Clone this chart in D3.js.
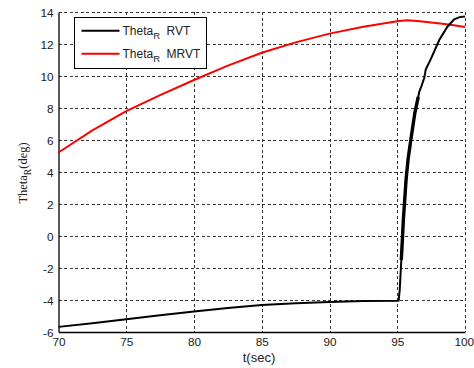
<!DOCTYPE html>
<html>
<head>
<meta charset="utf-8">
<script src="https://cdn.jsdelivr.net/npm/d3@7/dist/d3.min.js"></script>
<style>
  html, body { margin: 0; padding: 0; background: #fff; }
  svg { display: block; }
</style>
</head>
<body>
<svg id="chart" width="474" height="368"></svg>
<script>
// Time ticks and value ticks
const xTicks = [70, 75, 80, 85, 90, 95, 100];
const yTicks = [-6, -4, -2, 0, 2, 4, 6, 8, 10, 12, 14];

// Theta_R for the RVT controller (time in sec, angle in deg)
const rvtTime = [70, 72.5, 75, 77.5, 80, 82.5, 85, 87.5, 90, 92.5, 95, 95.1,
  95.18, 95.3, 95.45, 95.65, 95.8, 96.0, 96.3, 96.55, 96.62, 96.8, 97.0, 97.1,
  97.5, 98.1, 98.7, 99.2, 99.6, 100];
const rvtValue = [-5.68, -5.45, -5.2, -4.95, -4.72, -4.5, -4.32, -4.2, -4.12, -4.07, -4.04, -4.03,
  -3.4, -1.5, 1.0, 3.5, 4.8, 6.0, 7.7, 8.7, 9.0, 9.4, 9.9, 10.4,
  11.1, 12.25, 13.08, 13.54, 13.68, 13.72];
// interval where the RVT response chatters (drawn heavier)
const rvtChatter = [95.3, 96.6];

// Theta_R for the MRVT controller
const mrvtTime = [70, 72.5, 75, 77.5, 80, 82.5, 85, 87.5, 90, 92.5, 95, 95.7, 96.5, 97.5, 98.5, 99.3, 100];
const mrvtValue = [5.22, 6.6, 7.8, 8.8, 9.75, 10.65, 11.45, 12.1, 12.65, 13.08, 13.42, 13.48, 13.44, 13.35, 13.25, 13.15, 13.06];

const seriesNames = ["RVT", "MRVT"];
const seriesColors = ["#000000", "#ff0000"];

const svg = d3.select("#chart");
const plotLeft = 58.5, plotRight = 465, plotTop = 12, plotBottom = 332;

const x = d3.scaleLinear().domain([70, 100]).range([plotLeft, plotRight]);
const y = d3.scaleLinear().domain([-6, 14]).range([plotBottom, plotTop]);

const sansFont = "'Liberation Sans', Arial, sans-serif";
const serifFont = "'Liberation Serif', 'Times New Roman', serif";

// dashed grid
const grid = svg.append("g").attr("stroke", "#333").attr("stroke-width", 1)
  .attr("stroke-dasharray", "3,2.5").attr("shape-rendering", "crispEdges");
grid.selectAll("line.v").data(xTicks.slice(1)).join("line")
  .attr("x1", d => Math.round(x(d)) + 0.5).attr("x2", d => Math.round(x(d)) + 0.5)
  .attr("y1", plotTop).attr("y2", plotBottom);
grid.selectAll("line.h").data(yTicks.slice(1)).join("line")
  .attr("y1", d => Math.round(y(d)) + 0.5).attr("y2", d => Math.round(y(d)) + 0.5)
  .attr("x1", plotLeft).attr("x2", plotRight);

// axes (plain hyphen minus signs)
const plain = d => String(d).replace("\u2212", "-");
const xAxis = d3.axisBottom(x).tickValues(xTicks).tickFormat(plain).tickSize(0).tickPadding(3);
const yAxis = d3.axisLeft(y).tickValues(yTicks).tickFormat(plain).tickSize(0).tickPadding(5);

const gx = svg.append("g").attr("transform", `translate(0,${plotBottom})`).call(xAxis);
const gy = svg.append("g").attr("transform", `translate(${plotLeft},0)`).call(yAxis);
[gx, gy].forEach(g => {
  g.select(".domain").attr("stroke", "#000").attr("stroke-width", 1.3);
  g.selectAll("text").attr("font-family", sansFont).attr("font-size", 11.8).attr("fill", "#222");
});
gx.selectAll("text").attr("dy", "0.92em")
  .attr("dx", d => d === 100 ? -1.2 : 0);
gy.selectAll("text").attr("dy", "0.36em");

// lines
const line = d3.line().x(d => x(d[0])).y(d => y(d[1]));
const rvtPts = rvtTime.map((t, i) => [t, rvtValue[i]]);
const mrvtPts = mrvtTime.map((t, i) => [t, mrvtValue[i]]);

svg.append("path").datum(mrvtPts).attr("d", line)
  .attr("fill", "none").attr("stroke", seriesColors[1]).attr("stroke-width", 2);
svg.append("path").datum(rvtPts).attr("d", line)
  .attr("fill", "none").attr("stroke", seriesColors[0]).attr("stroke-width", 2);
svg.append("path").datum(rvtPts.filter(p => p[0] >= rvtChatter[0] && p[0] <= rvtChatter[1]))
  .attr("d", line).attr("fill", "none").attr("stroke", seriesColors[0]).attr("stroke-width", 3.4);

// legend
const lg = svg.append("g");
lg.append("rect").attr("x", 74.5).attr("y", 17.5).attr("width", 132).attr("height", 51)
  .attr("fill", "#fff").attr("stroke", "#000").attr("stroke-width", 1);
seriesNames.forEach((name, i) => {
  const ly = 30.7 + i * 23;
  lg.append("line").attr("x1", 81.5).attr("x2", 119.5).attr("y1", ly).attr("y2", ly)
    .attr("stroke", seriesColors[i]).attr("stroke-width", 2);
  const t = lg.append("text").attr("x", 122.5).attr("y", ly + 4.5)
    .attr("font-family", sansFont).attr("font-size", 12).attr("fill", "#222");
  t.append("tspan").text("Theta");
  t.append("tspan").attr("dy", 4).attr("font-size", 9.5).text("R");
  t.append("tspan").attr("x", 166.5).attr("dy", -4).text(name);
});

// axis titles
svg.append("text").attr("x", 259).attr("y", 362).attr("text-anchor", "middle")
  .attr("font-family", sansFont).attr("font-size", 13).attr("fill", "#222").text("t(sec)");

const yl = svg.append("text").attr("transform", "translate(27,173) rotate(-90)")
  .attr("text-anchor", "middle").attr("font-family", serifFont).attr("font-size", 12.5).attr("fill", "#222");
yl.append("tspan").text("Theta");
yl.append("tspan").attr("dy", 3.5).attr("font-size", 9.5).text("R");
yl.append("tspan").attr("dy", -3.5).text("(deg)");
</script>
</body>
</html>
